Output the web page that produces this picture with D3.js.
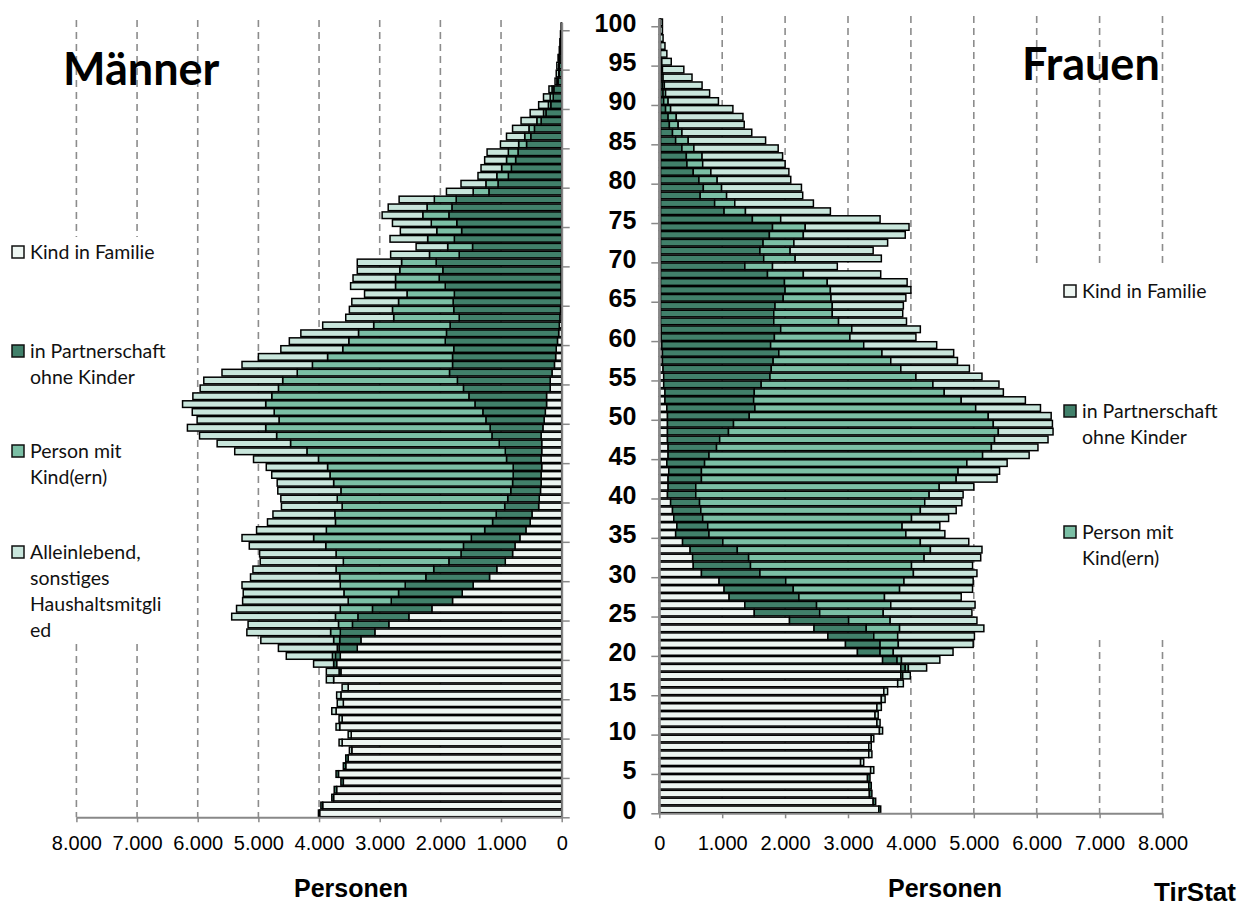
<!DOCTYPE html>
<html>
<head>
<meta charset="utf-8">
<script src="https://cdn.jsdelivr.net/npm/d3@7"></script>
<style>
  body { margin: 0; background: #fff; }
  svg { display: block; }
</style>
</head>
<body>
<div class="display"></div>
<script>
// Bevölkerungspyramide nach Haushaltsstellung, Männer links / Frauen rechts

const WIDTH = 1249;
const HEIGHT = 906;

const AGES = d3.range(0, 101);
const AGE_TICKS = d3.range(0, 101, 5);
const X_TICKS = d3.range(0, 8001, 1000);

const KEYS = ['kind', 'paar', 'eltern', 'allein'];
const LABELS = {
  kind: ['Kind in Familie'],
  paar: ['in Partnerschaft', 'ohne Kinder'],
  eltern: ['Person mit', 'Kind(ern)'],
  allein: ['Alleinlebend,', 'sonstiges', 'Haushaltsmitgli', 'ed']
};
const COLORS = { kind: '#eef6f2', paar: '#41806a', eltern: '#7bbfa5', allein: '#c9e6dc' };

// Männer, Personen je Altersjahr 0..100
const maennerKind = [
  3990, 3940, 3760, 3710, 3600, 3680, 3560, 3520, 3460, 3620,
  3470, 3660, 3620, 3720, 3600, 3640, 3520, 3760, 3640, 3710,
  3650, 3370, 3310, 3080, 2850, 2520, 2140, 1800, 1640, 1460,
  1190, 1070, 930, 810, 770, 690, 590, 520, 490, 380,
  370, 350, 340, 340, 330, 340, 330, 330, 340, 310,
  290, 270, 250, 250, 190, 190, 160, 120, 100, 90,
  70, 50, 40, 30, 20, 10, 10, 10, 10, 10,
  10, 0, 0, 0, 0, 0, 0, 0, 0, 0,
  0, 0, 0, 0, 0, 0, 0, 0, 0, 0,
  0, 0, 0, 0, 0, 0, 0, 0, 0, 0,
  0
];
const maennerPaar = [
  20, 30, 30, 40, 40, 40, 40, 40, 0, 0,
  0, 0, 0, 0, 0, 0, 0, 0, 30, 50,
  80, 300, 350, 570, 600, 840, 980, 1010, 1050, 1120,
  1050, 1040, 930, 850, 850, 800, 680, 620, 590, 560,
  520, 490, 470, 460, 470, 570, 600, 700, 810, 870,
  960, 1030, 1180, 1280, 1430, 1530, 1690, 1680, 1700, 1690,
  1850, 1850, 1800, 1660, 1760, 1780, 1760, 1910, 2010, 1950,
  2060, 1690, 1470, 1770, 1650, 1730, 1860, 1810, 1740, 1200,
  1050, 880, 830, 760, 720, 580, 510, 450, 340, 260,
  180, 140, 130, 60, 40, 40, 30, 20, 20, 10,
  10
];
const maennerEltern = [
  0, 0, 0, 0, 0, 0, 0, 0, 0, 0,
  0, 0, 0, 0, 0, 0, 0, 0, 0, 0,
  50, 30, 100, 160, 230, 370, 530, 710, 900, 1070,
  1420, 1610, 1740, 2060, 2270, 2600, 2610, 2590, 2660, 2680,
  2810, 2800, 2950, 3020, 3060, 3100, 3270, 3440, 3550, 3700,
  3410, 3440, 3450, 3250, 3050, 2880, 2510, 2310, 2060, 1830,
  1590, 1450, 1260, 1080, 1010, 900, 780, 820, 720, 710,
  570, 490, 410, 440, 410, 420, 430, 410, 360, 260,
  200, 190, 160, 150, 160, 130, 100, 90, 70, 40,
  40, 50, 30, 20, 10, 10, 10, 0, 0, 0,
  0
];
const maennerAllein = [
  0, 0, 0, 0, 0, 0, 0, 0, 40, 50,
  50, 60, 50, 70, 100, 70, 100, 120, 210, 330,
  760, 970, 1200, 1380, 1490, 1710, 1710, 1740, 1660, 1620,
  1470, 1370, 1370, 1260, 1260, 1180, 1150, 1120, 1020, 1000,
  930, 1040, 930, 960, 1010, 1070, 1190, 1210, 1270, 1290,
  1350, 1350, 1370, 1300, 1290, 1300, 1240, 1160, 1140, 1020,
  980, 950, 840, 790, 710, 770, 700, 740, 700, 700,
  730, 640, 520, 620, 600, 640, 670, 640, 580, 440,
  410, 310, 340, 360, 350, 300, 300, 270, 260, 220,
  160, 110, 50, 30, 40, 30, 20, 20, 10, 10,
  0
];

// Frauen, Personen je Altersjahr 0..100
const frauenKind = [
  3490, 3400, 3340, 3330, 3310, 3360, 3200, 3330, 3330, 3370,
  3500, 3460, 3430, 3460, 3530, 3570, 3790, 3840, 3840, 3550,
  3150, 2960, 2680, 2460, 2070, 1510, 1360, 1110, 1030, 950,
  670, 540, 530, 490, 370, 260, 280, 230, 210, 180,
  130, 140, 140, 150, 120, 140, 140, 130, 130, 130,
  130, 120, 90, 90, 70, 70, 60, 50, 50, 40,
  30, 30, 20, 20, 20, 20, 20, 20, 20, 20,
  20, 20, 20, 20, 20, 20, 20, 20, 20, 20,
  20, 20, 20, 20, 20, 20, 20, 20, 20, 20,
  20, 20, 20, 10, 10, 10, 0, 0, 0, 0,
  0
];
const frauenPaar = [
  30, 40, 40, 40, 40, 0, 0, 0, 0, 0,
  0, 0, 0, 0, 0, 0, 0, 30, 70, 230,
  360, 550, 730, 830, 940, 1040, 1140, 1110, 1100, 1060,
  930, 910, 890, 750, 640, 530, 490, 460, 450, 460,
  450, 440, 530, 520, 600, 650, 770, 830, 970, 1050,
  1300, 1400, 1410, 1420, 1550, 1690, 1720, 1760, 1850, 1730,
  1800, 1900, 1800, 1800, 1820, 1950, 1980, 1970, 1700, 1340,
  1640, 1580, 1630, 1730, 1780, 1460, 1010, 860, 630, 680,
  610, 520, 420, 410, 340, 240, 190, 140, 120, 80,
  50, 40, 30, 20, 20, 10, 10, 10, 10, 10,
  20
];
const frauenEltern = [
  0, 0, 0, 0, 0, 0, 0, 0, 0, 0,
  0, 0, 0, 0, 0, 0, 0, 0, 50, 70,
  210, 290, 380, 530, 660, 1010, 1180, 1360, 1690, 1880,
  2440, 2560, 2790, 3070, 3140, 3130, 3090, 3320, 3490, 3580,
  3710, 3870, 4050, 4080, 4170, 4350, 4370, 4370, 4290, 4130,
  3800, 3510, 3300, 3020, 2730, 2320, 2060, 1870, 1640, 1480,
  1200, 1130, 1030, 930, 910, 760, 720, 680, 570, 440,
  500, 480, 490, 540, 520, 450, 340, 320, 420, 290,
  290, 280, 250, 250, 190, 200, 150, 140, 130, 80,
  70, 40, 30, 30, 20, 20, 10, 10, 0, 0,
  0
];
const frauenAllein = [
  0, 0, 0, 0, 0, 50, 50, 50, 40, 40,
  50, 50, 50, 70, 60, 60, 90, 120, 290, 610,
  950, 1190, 1220, 1340, 1380, 1410, 1340, 1220, 1160, 1100,
  1010, 970, 900, 820, 770, 620, 600, 590, 570, 590,
  540, 550, 650, 660, 640, 740, 740, 850, 870, 940,
  1000, 1030, 1020, 940, 1050, 1050, 1090, 1060, 1140, 1160,
  1050, 1090, 1080, 1120, 1130, 1190, 1280, 1270, 1230, 1030,
  1370, 1320, 1490, 1620, 1650, 1580, 1350, 1250, 1210, 1270,
  1170, 1240, 1310, 1280, 1340, 1230, 1110, 1050, 1060, 990,
  800, 700, 600, 460, 340, 150, 100, 70, 50, 40,
  30
];

const fmt = d3.formatLocale({ decimal: ',', thousands: '.', grouping: [3], currency: ['', ' €'] }).format(',');

const svg = d3.select('.display')
  .append('svg')
  .attr('width', WIDTH)
  .attr('height', HEIGHT);

// Scales
const xLeft = d3.scaleLinear().domain([0, 8000]).range([561.7, 76.4]);
const xRight = d3.scaleLinear().domain([0, 8000]).range([659.3, 1162.5]);

const yLeft = d3.scaleBand().domain(AGES).range([817.3, 22.4]).paddingInner(0.16).paddingOuter(0.08);
const yRight = d3.scaleBand().domain(AGES).range([813.3, 18.4]).paddingInner(0.16).paddingOuter(0.08);
const yLeftTicks = d3.scaleLinear().domain([0, 101]).range([817.3, 22.4]);
const yRightTicks = d3.scaleLinear().domain([0, 101]).range([813.3, 18.4]);

function buildRows(kind, paar, eltern, allein) {
  return AGES.map((age, i) => ({ age, kind: kind[i], paar: paar[i], eltern: eltern[i], allein: allein[i] }));
}

const stack = d3.stack().keys(KEYS);
const maenner = stack(buildRows(maennerKind, maennerPaar, maennerEltern, maennerAllein));
const frauen = stack(buildRows(frauenKind, frauenPaar, frauenEltern, frauenAllein));

// Dashed gridlines
function drawGrid(x, yTop, yBottom) {
  svg.append('g')
    .selectAll('line')
    .data(X_TICKS.filter(d => d > 0))
    .enter()
    .append('line')
    .attr('x1', d => x(d))
    .attr('x2', d => x(d))
    .attr('y1', yTop)
    .attr('y2', yBottom)
    .attr('stroke', '#8c8c8c')
    .attr('stroke-width', 1.6)
    .attr('stroke-dasharray', '7,5');
}

drawGrid(xLeft, 20, 817.3);
drawGrid(xRight, 16, 813.3);

// Legend backgrounds hide the gridlines
svg.append('rect').attr('x', 0).attr('y', 237).attr('width', 172).attr('height', 405).attr('fill', '#fff');
svg.append('rect').attr('x', 1012).attr('y', 268).attr('width', 237).attr('height', 368).attr('fill', '#fff');

// Stacked bars
function drawBars(series, x, y, mirror) {
  svg.append('g')
    .selectAll('g')
    .data(series)
    .enter()
    .append('g')
    .attr('fill', s => COLORS[s.key])
    .selectAll('rect')
    .data(s => s.filter(d => d[1] - d[0] > 0))
    .enter()
    .append('rect')
    .attr('x', d => mirror ? x(d[1]) : x(d[0]))
    .attr('y', d => y(d.data.age))
    .attr('width', d => Math.abs(x(d[1]) - x(d[0])))
    .attr('height', y.bandwidth())
    .attr('stroke', '#000')
    .attr('stroke-width', 1.5);
}

drawBars(maenner, xLeft, yLeft, true);
drawBars(frauen, xRight, yRight, false);

// Axes
function styleAxis(g) {
  g.select('.domain').attr('stroke', '#888').attr('stroke-width', 2);
  g.selectAll('.tick line').attr('stroke', '#888').attr('stroke-width', 1.5);
}

svg.append('g')
  .attr('transform', 'translate(0, 817.3)')
  .call(d3.axisBottom(xLeft).tickValues(X_TICKS).tickSize(5).tickSizeOuter(0).tickPadding(14).tickFormat(fmt))
  .call(styleAxis)
  .call(g => g.selectAll('text').attr('font-family', 'Liberation Sans, Arial, sans-serif').attr('font-size', 20).attr('fill', '#000'));

svg.append('g')
  .attr('transform', 'translate(0, 813.3)')
  .call(d3.axisBottom(xRight).tickValues(X_TICKS).tickSize(5).tickSizeOuter(0).tickPadding(18).tickFormat(fmt))
  .call(styleAxis)
  .call(g => g.selectAll('text').attr('font-family', 'Liberation Sans, Arial, sans-serif').attr('font-size', 20).attr('fill', '#000'));

svg.append('g')
  .attr('transform', 'translate(561.7, 0)')
  .call(d3.axisRight(yLeftTicks).tickValues(AGE_TICKS).tickSize(8).tickSizeOuter(0).tickFormat(''))
  .call(styleAxis);

svg.append('g')
  .attr('transform', 'translate(659.3, 0)')
  .call(d3.axisLeft(yRightTicks).tickValues(AGE_TICKS).tickSize(8).tickSizeOuter(0).tickPadding(15))
  .call(styleAxis)
  .call(g => g.selectAll('text')
    .attr('font-family', 'Liberation Sans, Arial, sans-serif')
    .attr('font-size', 25)
    .attr('font-weight', 'bold')
    .attr('fill', '#000')
    .attr('y', -3));

// Titles
svg.append('text')
  .attr('x', 63).attr('y', 85)
  .attr('font-family', 'Lato, sans-serif').attr('font-weight', 'bold').attr('font-size', 45)
  .text('Männer');

svg.append('text')
  .attr('x', 1022).attr('y', 80)
  .attr('font-family', 'Lato, sans-serif').attr('font-weight', 'bold').attr('font-size', 45)
  .text('Frauen');

const axisTitles = [
  { x: 351, y: 897, size: 25, text: 'Personen' },
  { x: 945, y: 897, size: 25, text: 'Personen' },
  { x: 1195, y: 901, size: 26, text: 'TirStat' }
];
svg.append('g')
  .selectAll('text')
  .data(axisTitles)
  .enter()
  .append('text')
  .attr('x', d => d.x)
  .attr('y', d => d.y)
  .attr('text-anchor', 'middle')
  .attr('font-family', 'Liberation Sans, Arial, sans-serif')
  .attr('font-weight', 'bold')
  .attr('font-size', d => d.size)
  .text(d => d.text);

// Legends
function drawLegend(keys, x, ys) {
  const g = svg.append('g');
  keys.forEach((key, i) => {
    g.append('rect')
      .attr('x', x).attr('y', ys[i] - 6)
      .attr('width', 12).attr('height', 12)
      .attr('fill', COLORS[key])
      .attr('stroke', '#111').attr('stroke-width', 1.5);
    LABELS[key].forEach((line, j) => {
      g.append('text')
        .attr('x', x + 18)
        .attr('y', ys[i] + j * 26)
        .attr('dy', '0.35em')
        .attr('font-family', 'Lato, sans-serif')
        .attr('font-size', 19.5)
        .attr('font-variant-ligatures', 'none')
        .attr('fill', '#111')
        .text(line);
    });
  });
}

drawLegend(KEYS, 12, [252, 351, 451, 552]);
drawLegend(KEYS.slice(0, 3), 1064, [291, 411, 532]);
</script>
</body>
</html>
